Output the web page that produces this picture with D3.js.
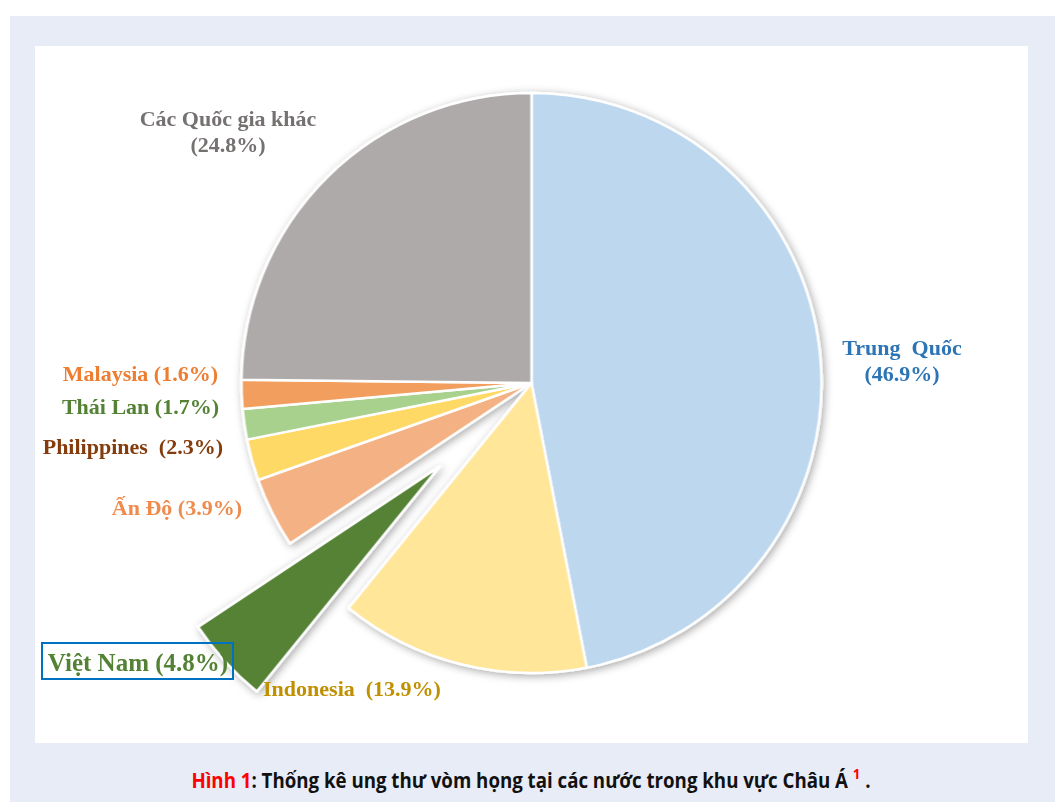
<!DOCTYPE html>
<html>
<head>
<meta charset="utf-8">
<script src="https://cdn.jsdelivr.net/npm/d3@7"></script>
<style>
  html, body { margin: 0; padding: 0; background: #ffffff; }
  svg { display: block; }
</style>
</head>
<body>
<svg id="chart" width="1058" height="802"></svg>
<script>
// Nasopharyngeal cancer share by country, Asia (%)
const countries = ["Trung  Quốc", "Indonesia", "Việt Nam", "Ấn Độ", "Philippines", "Thái Lan", "Malaysia", "Các Quốc gia khác"];
const shares    = [46.9, 13.9, 4.8, 3.9, 2.3, 1.7, 1.6, 24.8];
const shareLabels = ["(46.9%)", "(13.9%)", "(4.8%)", "(3.9%)", "(2.3%)", "(1.7%)", "(1.6%)", "(24.8%)"];
const sliceColors = ["#BDD7EE", "#FFE699", "#548235", "#F4B183", "#FFD966", "#A9D18E", "#F19E5E", "#AEAAAA"];
const labelColors = ["#2E75B6", "#BF9000", "#548235", "#F08B4E", "#843C0C", "#548235", "#ED7D31", "#767171"];
const explodedIndex = 2;

const svg = d3.select("#chart");

// page frame and white panel
svg.append("rect").attr("x", 10).attr("y", 16).attr("width", 1045).attr("height", 786).attr("fill", "#E8ECF6");
svg.append("rect").attr("x", 35).attr("y", 46).attr("width", 993).attr("height", 697).attr("fill", "#FFFFFF");

const defs = svg.append("defs");
const shadow = defs.append("filter").attr("id", "sliceShadow")
  .attr("x", "-20%").attr("y", "-20%").attr("width", "140%").attr("height", "140%");
shadow.append("feDropShadow").attr("dx", 2).attr("dy", 2).attr("stdDeviation", 4)
  .attr("flood-color", "#000").attr("flood-opacity", 0.35);

const cx = 531.5, cy = 383, radius = 290, explodeBy = 124;

const pie = d3.pie().sort(null).value(d => d.v);
const data = pie(countries.map((c, i) => ({ name: c, v: shares[i], i })));
const arc = d3.arc().innerRadius(0).outerRadius(radius);

const g = svg.append("g").attr("transform", `translate(${cx},${cy})`)
  .attr("filter", "url(#sliceShadow)");

g.selectAll("path").data(data).join("path")
  .attr("d", arc)
  .attr("fill", d => sliceColors[d.data.i])
  .attr("stroke", "#ffffff")
  .attr("stroke-width", 2.5)
  .attr("stroke-linejoin", "round")
  .attr("transform", d => {
    if (d.data.i !== explodedIndex) return null;
    const mid = (d.startAngle + d.endAngle) / 2;
    return `translate(${explodeBy * Math.sin(mid)},${-explodeBy * Math.cos(mid)})`;
  });

// labels
const font = "'Liberation Serif', 'Times New Roman', serif";
function label(x, y, text, color, anchor, size) {
  return svg.append("text").attr("x", x).attr("y", y)
    .attr("text-anchor", anchor || "middle")
    .attr("dominant-baseline", "central")
    .attr("font-family", font).attr("font-weight", "bold")
    .attr("font-size", size || 22)
    .attr("fill", color)
    .attr("xml:space", "preserve")
    .style("white-space", "pre")
    .text(text);
}

label(902, 347, countries[0], labelColors[0]);
label(902, 373, shareLabels[0], labelColors[0]);
label(228, 118, countries[7], labelColors[7]);
label(228, 144, shareLabels[7], labelColors[7]);
label(218, 373, `${countries[6]} ${shareLabels[6]}`, labelColors[6], "end");
label(219, 406, `${countries[5]} ${shareLabels[5]}`, labelColors[5], "end");
label(223, 446, `${countries[4]}  ${shareLabels[4]}`, labelColors[4], "end");
label(242, 507, `${countries[3]} ${shareLabels[3]}`, labelColors[3], "end");
label(352, 688, `${countries[1]}  ${shareLabels[1]}`, labelColors[1]);

// highlighted label for the exploded slice
svg.append("rect").attr("x", 42).attr("y", 643).attr("width", 191).attr("height", 36)
  .attr("fill", "none").attr("stroke", "#0070C0").attr("stroke-width", 2);
label(138, 662, `${countries[2]} ${shareLabels[2]}`, labelColors[2], "middle", 25);

// caption, horizontally condensed
const cap = svg.append("text")
  .attr("transform", "translate(531,780) scale(0.89,1)")
  .attr("text-anchor", "middle").attr("dominant-baseline", "central")
  .attr("font-family", "'Open Sans', sans-serif")
  .attr("font-weight", "bold").attr("font-size", 21).attr("fill", "#111111");
cap.append("tspan").attr("fill", "#FF0000").text("Hình 1");
cap.append("tspan").text(": Thống kê ung thư vòm họng tại các nước trong khu vực Châu Á ");
cap.append("tspan").attr("fill", "#FF0000").attr("dy", -7).attr("font-size", 15).text("1");
cap.append("tspan").attr("dy", 7).text(" .");
</script>
</body>
</html>
